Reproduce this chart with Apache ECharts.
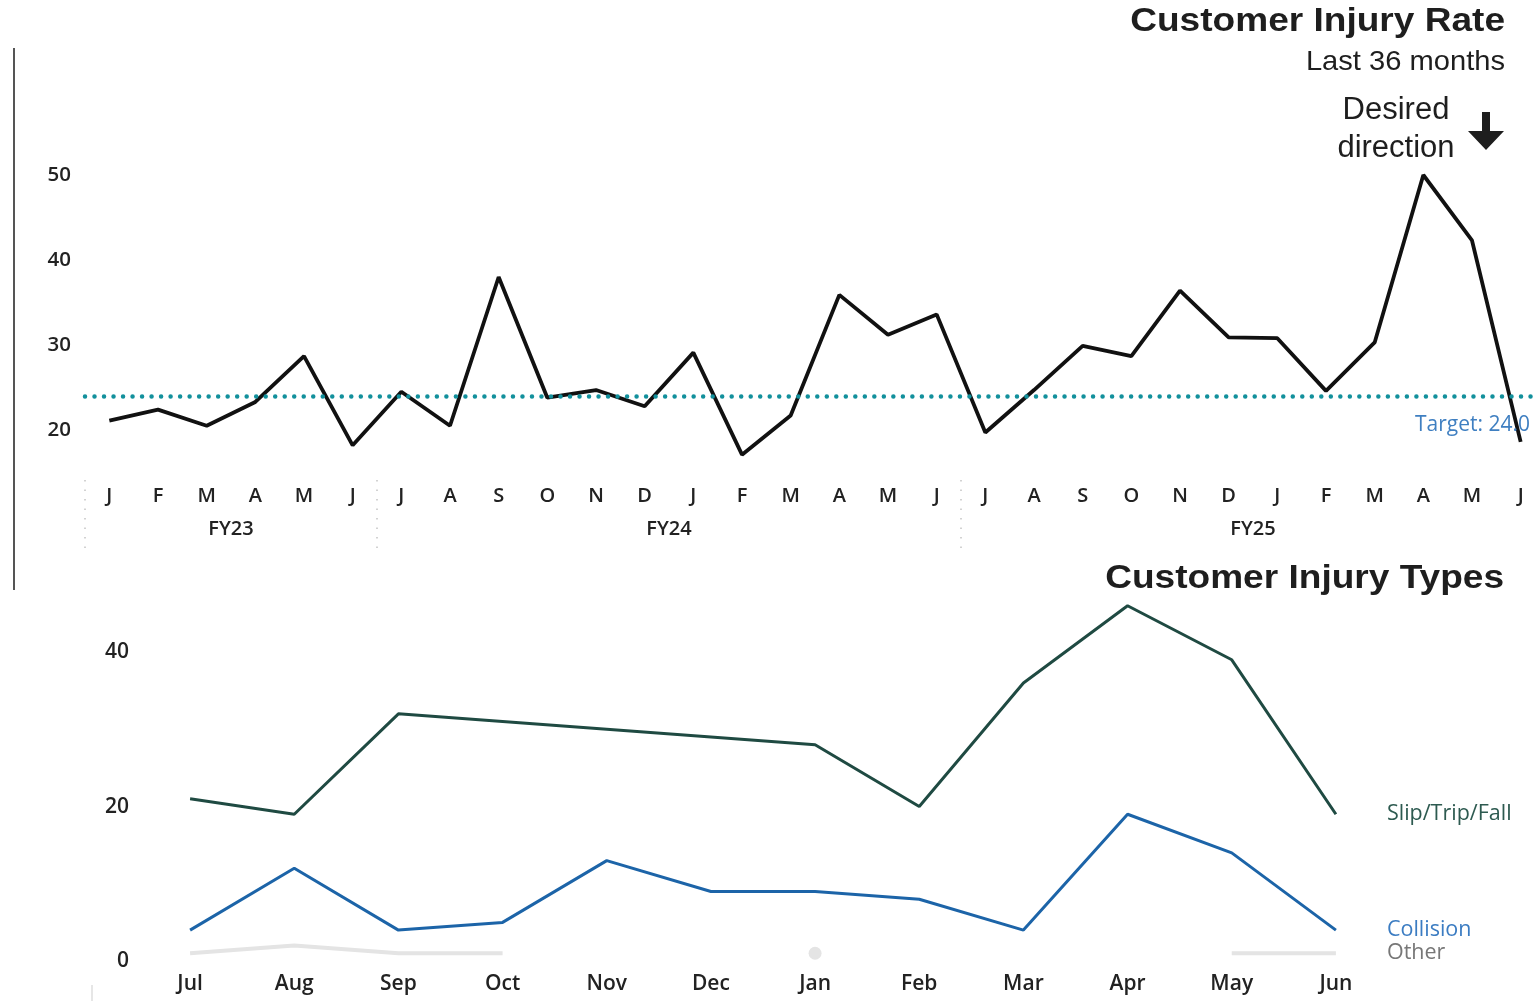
<!DOCTYPE html>
<html>
<head>
<meta charset="utf-8">
<script src="https://cdn.jsdelivr.net/npm/echarts@6/dist/echarts.min.js"></script>
<style>
  html, body { margin: 0; padding: 0; background: #ffffff; }
  #chart { width: 1537px; height: 1001px; }
</style>
</head>
<body>
<div id="chart"></div>
<script>
// ---------- Data ----------
const rateMonths = ['J','F','M','A','M','J',
                    'J','A','S','O','N','D','J','F','M','A','M','J',
                    'J','A','S','O','N','D','J','F','M','A','M','J'];
const injuryRate = [21.1, 22.4, 20.5, 23.3, 28.7, 18.2,
                    24.5, 20.5, 38.0, 23.8, 24.7, 22.8, 29.1, 17.1, 21.7, 35.9, 31.2, 33.6,
                    19.7, 24.7, 29.9, 28.7, 36.4, 30.9, 30.8, 24.6, 30.3, 50.0, 42.3, 18.6];
const targetRate = 24;
const fiscalYears = ['FY23', 'FY24', 'FY25'];
const fyMonthCounts = [6, 12, 12];
const rateTicks = [20, 30, 40, 50];

const typeMonths = ['Jul','Aug','Sep','Oct','Nov','Dec','Jan','Feb','Mar','Apr','May','Jun'];
const slipTripFall = [21, 19, 32, 31, 30, 29, 28, 20, 36, 46, 39, 19];
const collision    = [4, 12, 4, 5, 13, 9, 9, 8, 4, 19, 14, 4];
const other        = [1, 2, 1, 1, null, null, 1, null, null, null, 1, 1];
const typeTicks = [0, 20, 40];

// ---------- Derived helpers ----------
const fyBounds = [0];
fyMonthCounts.forEach(c => fyBounds.push(fyBounds[fyBounds.length - 1] + c));
const fyMids = fyMonthCounts.map((c, i) => fyBounds[i] + c / 2);

const otherData = other.map((v, i) => {
  const isolated = v != null && (i === 0 || other[i - 1] == null) && (i === other.length - 1 || other[i + 1] == null);
  return isolated ? { value: v, symbolSize: 13 } : v;
});

const axisFont = '"Open Sans", "Noto Sans", sans-serif';

const chart = echarts.init(document.getElementById('chart'), null, { renderer: 'canvas' });

const option = {
  backgroundColor: '#ffffff',
  animation: false,
  grid: [
    { left: 85, width: 1460, top: 175, height: 289, containLabel: false, outerBoundsMode: 'none' },
    { left: 138, width: 1250, top: 598, height: 363, containLabel: false, outerBoundsMode: 'none' }
  ],
  xAxis: [
    {
      type: 'category', gridIndex: 0, data: rateMonths, boundaryGap: true,
      axisLine: { show: false }, axisTick: { show: false },
      axisLabel: { margin: 22, color: '#222', fontSize: 20, fontWeight: 600, fontFamily: axisFont, interval: 0 }
    },
    {
      type: 'value', gridIndex: 0, min: 0, max: fyBounds[fyBounds.length - 1],
      position: 'bottom', offset: 16,
      axisLine: { show: false }, splitLine: { show: false },
      axisTick: { show: true, customValues: fyBounds, length: 68,
                  lineStyle: { color: '#c4c4c4', width: 1.5, type: [1.5, 8] } },
      axisLabel: { customValues: fyMids, margin: 39, color: '#222', fontSize: 20, fontWeight: 600,
                   fontFamily: axisFont,
                   formatter: (v) => { const i = fyMids.indexOf(v); return i >= 0 ? fiscalYears[i] : ''; } }
    },
    {
      type: 'category', gridIndex: 1, data: typeMonths, boundaryGap: true,
      axisLine: { show: false }, axisTick: { show: false },
      axisLabel: { margin: 13, color: '#222', fontSize: 21, fontWeight: 600, fontFamily: axisFont, interval: 0 }
    }
  ],
  yAxis: [
    {
      type: 'value', gridIndex: 0, min: 16, max: 50,
      axisLine: { show: false }, axisTick: { show: false }, splitLine: { show: false },
      axisLabel: { customValues: rateTicks, margin: 14, color: '#222', fontSize: 20.5, fontWeight: 600, fontFamily: axisFont }
    },
    {
      type: 'value', gridIndex: 1, min: 0, max: 47,
      axisLine: { show: false }, axisTick: { show: false }, splitLine: { show: false },
      axisLabel: { customValues: typeTicks, margin: 9, color: '#222', fontSize: 21, fontWeight: 600, fontFamily: axisFont }
    }
  ],
  series: [
    {
      name: 'Customer Injury Rate', type: 'line', xAxisIndex: 0, yAxisIndex: 0,
      data: injuryRate, showSymbol: false, clip: false,
      lineStyle: { color: '#111111', width: 3.8 },
      markLine: {
        silent: true, symbol: 'none',
        lineStyle: { color: '#12909c', width: 4.5, type: [0.01, 9.5], cap: 'round' },
        label: {
          show: true, position: 'insideEndBottom', distance: [15, 19],
          color: '#3f7fc1', fontSize: 21, fontFamily: axisFont,
          formatter: (p) => 'Target: ' + Number(p.value).toFixed(1)
        },
        data: [{ yAxis: targetRate }]
      }
    },
    {
      name: 'Slip/Trip/Fall', type: 'line', xAxisIndex: 2, yAxisIndex: 1,
      data: slipTripFall, showSymbol: false, clip: false,
      lineStyle: { color: '#1f4a42', width: 3 },
      endLabel: { show: true, formatter: '{a}', distance: 51, color: '#2d5a50', fontSize: 21.5, fontFamily: axisFont }
    },
    {
      name: 'Collision', type: 'line', xAxisIndex: 2, yAxisIndex: 1,
      data: collision, showSymbol: false, clip: false,
      lineStyle: { color: '#1c64a8', width: 3 },
      endLabel: { show: true, formatter: '{a}', distance: 51, color: '#3b7cc2', fontSize: 21.5, fontFamily: axisFont }
    },
    {
      name: 'Other', type: 'line', xAxisIndex: 2, yAxisIndex: 1,
      data: otherData, symbol: 'circle', symbolSize: 0, showSymbol: true, clip: false,
      connectNulls: false,
      itemStyle: { color: '#e4e4e4' },
      lineStyle: { color: '#e4e4e4', width: 4 },
      endLabel: { show: true, formatter: '{a}', distance: 51, color: '#777777', fontSize: 21.5, fontFamily: axisFont }
    }
  ],
  graphic: [
    { type: 'line', shape: { x1: 14, y1: 48, x2: 14, y2: 590 }, style: { stroke: '#555555', lineWidth: 2 } },
    { type: 'line', shape: { x1: 92, y1: 985, x2: 92, y2: 1001 }, style: { stroke: '#e6e6e6', lineWidth: 2 } },
    { type: 'text', x: 1505, y: 22, scaleX: 1.09,
      style: { text: 'Customer Injury Rate', font: 'bold 34px "Liberation Sans", Arial, sans-serif',
               fill: '#1e1e1e', align: 'right', verticalAlign: 'middle' } },
    { type: 'text', x: 1505, y: 62, scaleX: 1.04,
      style: { text: 'Last 36 months', font: '28px "Liberation Sans", Arial, sans-serif',
               fill: '#1e1e1e', align: 'right', verticalAlign: 'middle' } },
    { type: 'text', x: 1396, y: 110,
      style: { text: 'Desired', font: '31px "Liberation Sans", Arial, sans-serif',
               fill: '#1e1e1e', align: 'center', verticalAlign: 'middle' } },
    { type: 'text', x: 1396, y: 148,
      style: { text: 'direction', font: '31px "Liberation Sans", Arial, sans-serif',
               fill: '#1e1e1e', align: 'center', verticalAlign: 'middle' } },
    { type: 'polygon',
      shape: { points: [[1482, 112], [1490, 112], [1490, 131], [1504, 131], [1486, 150], [1468, 131], [1482, 131]] },
      style: { fill: '#1e1e1e' } },
    { type: 'text', x: 1504, y: 579, scaleX: 1.09,
      style: { text: 'Customer Injury Types', font: 'bold 34px "Liberation Sans", Arial, sans-serif',
               fill: '#1e1e1e', align: 'right', verticalAlign: 'middle' } }
  ]
};

chart.setOption(option);
</script>
</body>
</html>
